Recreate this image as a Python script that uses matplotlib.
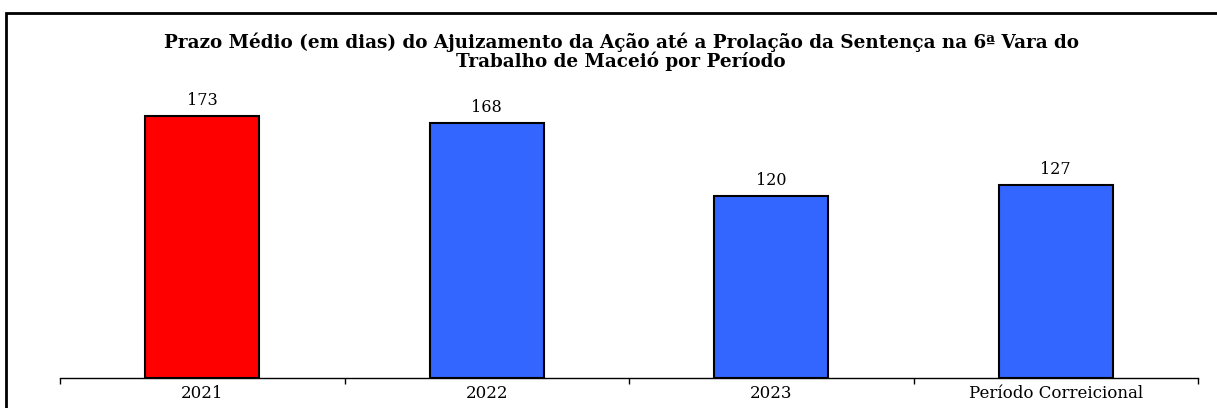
import matplotlib.pyplot as plt
from matplotlib.patches import Rectangle

# data
periods = ['2021', '2022', '2023', 'Período Correicional']
prazo_medio = [173, 168, 120, 127]
bar_colors = ['#FF0000', '#3366FF', '#3366FF', '#3366FF']

title = ('Prazo Médio (em dias) do Ajuizamento da Ação até a Prolação da Sentença na 6ª Vara do\n'
         'Trabalho de Maceió por Período')

# the screenshot is stretched sideways, so a wide serif fits it better
plt.rcParams['font.family'] = ['DejaVu Serif', 'Liberation Serif']

W, H = 1217, 408
fig = plt.figure(figsize=(W / 100, H / 100), dpi=100)

# outer frame (runs off the right and bottom edges like the screenshot)
fig.patches.append(Rectangle((6 / W, -0.05), 1.1, (H - 13) / H + 0.05,
                             transform=fig.transFigure, fill=False,
                             edgecolor='black', linewidth=2))

ax = fig.add_axes([60 / W, (H - 378) / H, (1198 - 60) / W, (378 - 74.6) / H])

x = range(len(periods))
bars = ax.bar(x, prazo_medio, width=0.4, color=bar_colors,
              edgecolor='black', linewidth=1.5)

for b, v in zip(bars, prazo_medio):
    ax.annotate(str(v), (b.get_x() + b.get_width() / 2, v),
                xytext=(0, 5), textcoords='offset points',
                ha='center', va='bottom', fontsize=11.5)

ax.set_xlim(-0.5, len(periods) - 0.5)
ax.set_ylim(0, 200)

for side in ['top', 'right', 'left']:
    ax.spines[side].set_visible(False)
ax.spines['bottom'].set_linewidth(1)
ax.set_yticks([])

ax.set_xticks(list(x))
ax.set_xticklabels(periods, fontsize=12)
ax.tick_params(axis='x', which='major', length=0, pad=5)
ax.set_xticks([i - 0.5 for i in range(len(periods) + 1)], minor=True)
ax.tick_params(axis='x', which='minor', length=4, width=1, direction='out')

fig.text(621 / W, (H - 33) / H, title, ha='center', va='top',
         fontsize=13.2, fontweight='bold', linespacing=0.93)

fig.savefig('out.png', dpi=100)
